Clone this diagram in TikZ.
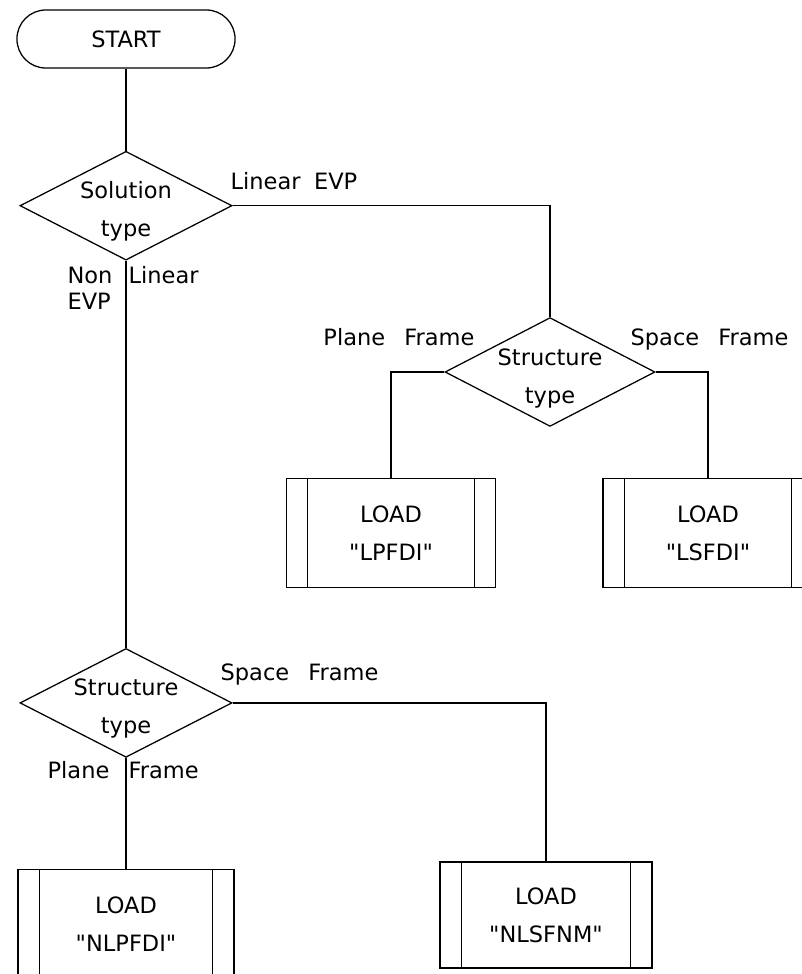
\documentclass[tikz,border=0pt]{standalone}
\usepackage{fontspec}
\setmainfont{DejaVu Sans}
\usetikzlibrary{shapes.geometric, positioning}
\newcommand{\lift}{\rule{0pt}{0.72cm}}
\tikzset{
	terminal/.style={rectangle, rounded corners=0.72cm, draw, minimum width=5.45cm, minimum height=1.45cm, align=center},
	decision/.style={diamond, aspect=2, draw, minimum width=5.3cm, minimum height=2.72cm, inner sep=-8pt, align=center},
	loadbox/.style={rectangle, draw, minimum width=5.3cm, minimum height=2.72cm, align=center,
		path picture={\draw ([xshift=0.53cm]path picture bounding box.north west) -- ([xshift=0.53cm]path picture bounding box.south west);
			\draw ([xshift=-0.53cm]path picture bounding box.north east) -- ([xshift=-0.53cm]path picture bounding box.south east);}},
	branch/.style={inner sep=0pt, align=left, font=\fontsize{16}{19}\selectfont, execute at begin node={\spaceskip=0.85em\relax}}
}
\begin{document}
\begin{tikzpicture}[x=0.025cm, y=-0.025cm, line width=0.9pt, font=\fontsize{16}{27}\selectfont]
	\useasboundingbox (0,0) rectangle (802,974);
	% Start and solution type
	\node (start) [terminal] at (126,39) {START};
	\node (sol) [decision, below=2.05cm of start] {\lift Solution\\type};
	
	% Linear EVP branch
	\node (lin) [decision, minimum width=5.25cm] at (550,372) {\lift Structure\\type};
	\node (lpfdi) [loadbox, minimum width=5.225cm] at (391,533) {LOAD\\\textquotedbl LPFDI\textquotedbl};
	\node (lsfdi) [loadbox, minimum width=5.25cm] at (708,533) {LOAD\\\textquotedbl LSFDI\textquotedbl};
	
	% Non linear EVP branch
	\node (nonlin) [decision, below=9.675cm of sol] {\lift Structure\\type};
	\node (nlpfdi) [loadbox, minimum width=5.4cm, below=2.775cm of nonlin] {LOAD\\\textquotedbl NLPFDI\textquotedbl};
	\node (nlsfnm) [loadbox, minimum height=2.65cm] at (546,915) {LOAD\\\textquotedbl NLSFNM\textquotedbl};
	
	% Branch labels
	\node (linevp) [branch, anchor=base west] at (230,189) {Linear\hspace{0.6em}EVP};
	\node (nonevp) [branch, anchor=north west] at (67,266) {Non\\EVP};
	\node (linear) [branch, anchor=base west] at (128,283) {Linear};
	\node (linplane) [branch, anchor=base east] at (475,345) {Plane Frame};
	\node (linspace) [branch, anchor=base west] at (630,345) {Space Frame};
	\node (nlspace) [branch, anchor=base west] at (220,680) {Space Frame};
	\node (nlplane) [branch, anchor=base east] at (110,778) {Plane};
	\node (nlframe) [branch, anchor=base west] at (128,778) {Frame};
	
	% Connectors
	\draw (start) -- (sol);
	\draw (sol.east) -| (lin.north);
	\draw (sol.south) -- (nonlin.north);
	\draw (lin.west) -| (lpfdi.north);
	\draw (lin.east) -| (lsfdi.north);
	\draw (nonlin.east) -| (nlsfnm.north);
	\draw (nonlin.south) -- (nlpfdi.north);
\end{tikzpicture}
\end{document}
